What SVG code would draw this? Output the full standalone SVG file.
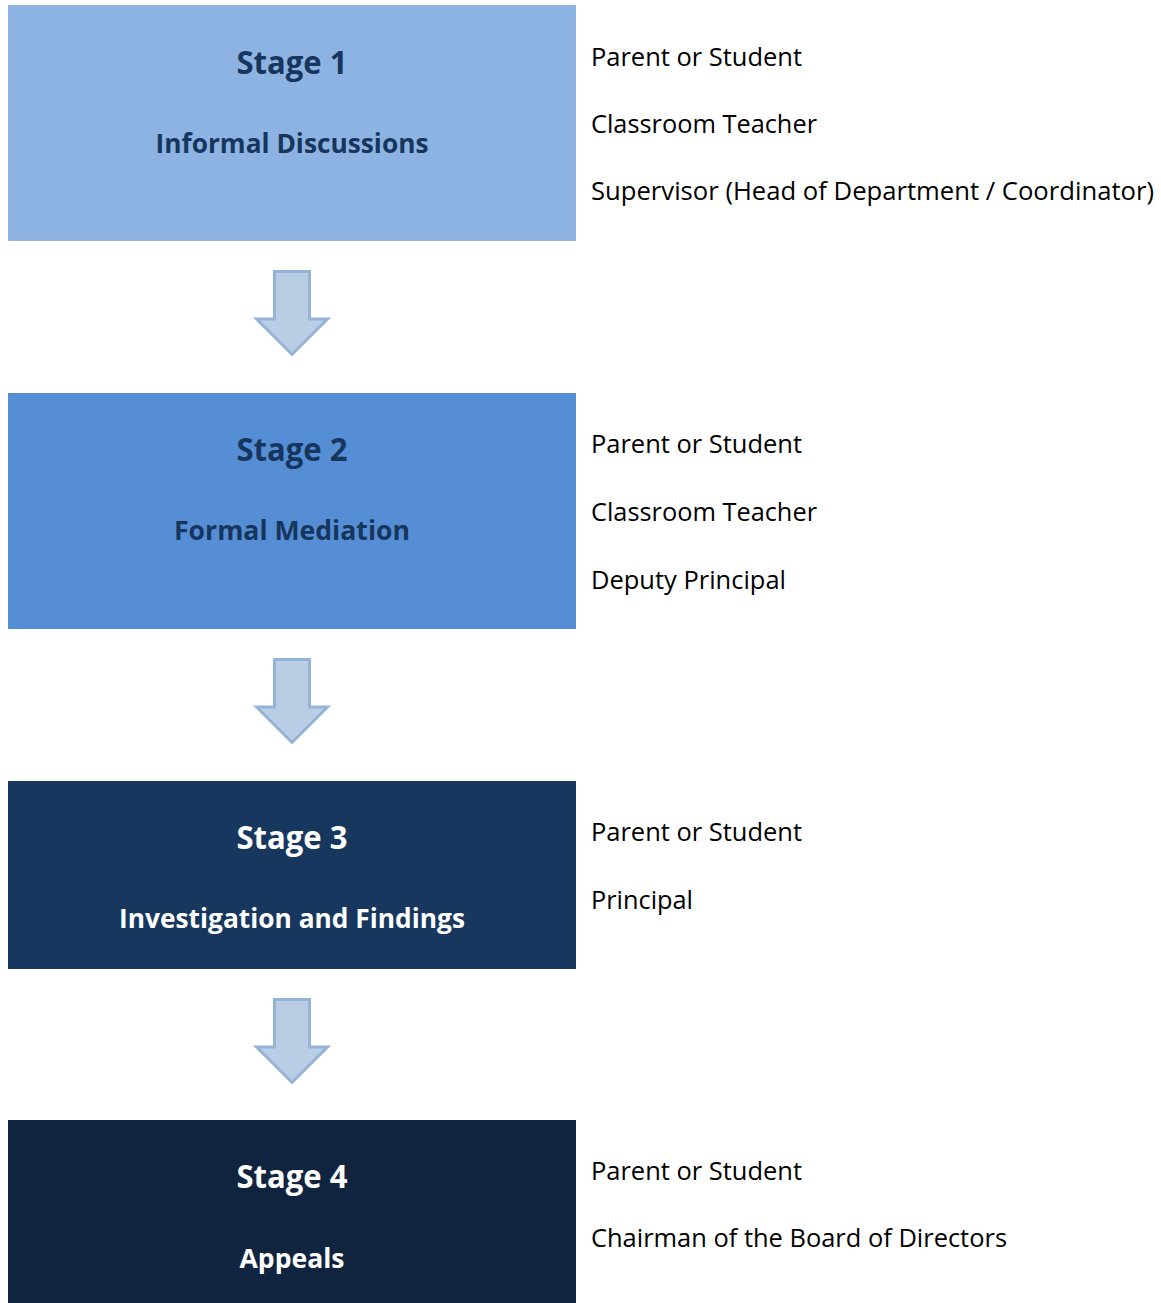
<svg xmlns="http://www.w3.org/2000/svg" width="1161" height="1303" viewBox="0 0 1161 1303">
<style>
.title{font-family:"Open Sans","Noto Sans","Liberation Sans",sans-serif;font-weight:700;font-size:33px;text-anchor:middle}
.sub{font-family:"Open Sans","Noto Sans","Liberation Sans",sans-serif;font-weight:700;font-size:26px;text-anchor:middle}
.who{font-family:"Open Sans","Noto Sans","Liberation Sans",sans-serif;font-size:25px;fill:#000}
.dark{fill:#17365D}
.light{fill:#FFFFFF}
.arrow{fill:#B9CDE5;stroke:#95B3D7;stroke-width:3;stroke-linejoin:miter}
</style>
<defs>
<path id="downArrow" class="arrow" d="M274.5,271.5 H309.5 V319 H327.5 L292,354.5 L256.5,319 H274.5 Z"/>
</defs>
<rect width="1161" height="1303" fill="#FFFFFF"/>
<g id="stage1">
<rect x="8" y="5" width="568" height="236" fill="#8DB3E2"/>
<text class="title dark" x="292" y="74" textLength="111" lengthAdjust="spacingAndGlyphs">Stage 1</text>
<text class="sub dark" x="292" y="153" textLength="273" lengthAdjust="spacingAndGlyphs">Informal Discussions</text>
<text class="who" x="591" y="66" textLength="211" lengthAdjust="spacingAndGlyphs">Parent or Student</text>
<text class="who" x="591" y="133" textLength="226" lengthAdjust="spacingAndGlyphs">Classroom Teacher</text>
<text class="who" x="591" y="200" textLength="563" lengthAdjust="spacingAndGlyphs">Supervisor (Head of Department / Coordinator)</text>
</g>
<g id="stage2">
<rect x="8" y="393" width="568" height="236" fill="#558ED5"/>
<text class="title dark" x="292" y="461" textLength="111" lengthAdjust="spacingAndGlyphs">Stage 2</text>
<text class="sub dark" x="292" y="540" textLength="236" lengthAdjust="spacingAndGlyphs">Formal Mediation</text>
<text class="who" x="591" y="453" textLength="211" lengthAdjust="spacingAndGlyphs">Parent or Student</text>
<text class="who" x="591" y="521" textLength="226" lengthAdjust="spacingAndGlyphs">Classroom Teacher</text>
<text class="who" x="591" y="589" textLength="195" lengthAdjust="spacingAndGlyphs">Deputy Principal</text>
</g>
<g id="stage3">
<rect x="8" y="781" width="568" height="188" fill="#17375E"/>
<text class="title light" x="292" y="849" textLength="111" lengthAdjust="spacingAndGlyphs">Stage 3</text>
<text class="sub light" x="292" y="928" textLength="346" lengthAdjust="spacingAndGlyphs">Investigation and Findings</text>
<text class="who" x="591" y="841" textLength="211" lengthAdjust="spacingAndGlyphs">Parent or Student</text>
<text class="who" x="591" y="909" textLength="102" lengthAdjust="spacingAndGlyphs">Principal</text>
</g>
<g id="stage4">
<rect x="8" y="1120" width="568" height="183" fill="#10243F"/>
<text class="title light" x="292" y="1188" textLength="111" lengthAdjust="spacingAndGlyphs">Stage 4</text>
<text class="sub light" x="292" y="1268" textLength="105" lengthAdjust="spacingAndGlyphs">Appeals</text>
<text class="who" x="591" y="1180" textLength="211" lengthAdjust="spacingAndGlyphs">Parent or Student</text>
<text class="who" x="591" y="1247" textLength="416" lengthAdjust="spacingAndGlyphs">Chairman of the Board of Directors</text>
</g>
<g id="connectors">
<use href="#downArrow"/>
<use href="#downArrow" transform="translate(0,388)"/>
<use href="#downArrow" transform="translate(0,728)"/>
</g>
</svg>
